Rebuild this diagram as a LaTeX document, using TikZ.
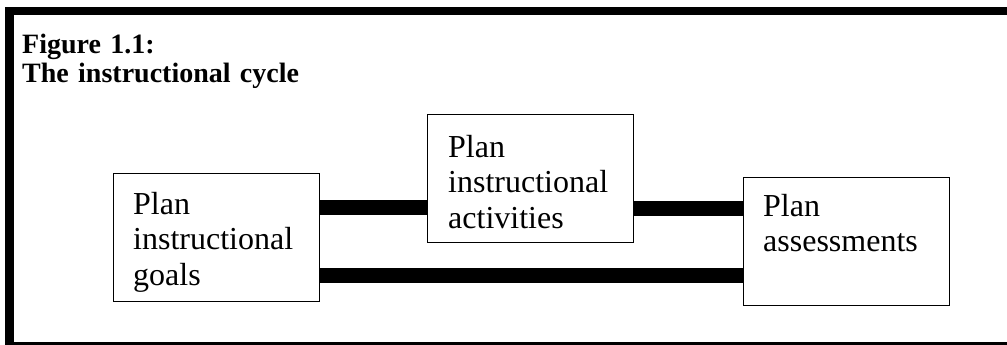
\documentclass[tikz,border=0pt]{standalone}
\usepackage{fontspec}
\setmainfont{Liberation Serif}
\usetikzlibrary{calc}
\begin{document}
\begin{tikzpicture}[x=1pt,y=-1pt,
  stagebox/.style={draw=black, line width=1.3pt, minimum width=206pt,
    minimum height=128pt, inner sep=0pt, anchor=north west},
  stagetext/.style={anchor=base west, text width=190pt, align=left,
    inner sep=0pt, font=\fontsize{32}{35.5}\selectfont},
  titletext/.style={anchor=base west, text width=400pt, align=left,
    inner sep=0pt, font=\bfseries\fontsize{28}{29}\selectfont},
  link/.style={line width=15pt, draw=black},
  framebar/.style={fill=black}]
\useasboundingbox (0,0) rectangle (1007,345);

% frame: heavy top and left rules, light bottom rule
\fill[framebar] (5,7) rectangle (1007,15);
\fill[framebar] (5,7) rectangle (14,345);
\fill[framebar] (5,342) rectangle (1007,345);

% title
\node[titletext] (title) at (22,54) {Figure 1.1:\\The instructional cycle};

% the three planning stages
\node[stagebox] (goals)  at (113,173) {};
\node[stagebox] (act)    at (427,114) {};
\node[stagebox] (assess) at (743,177) {};

\node[stagetext] (goalsText)  at ($(goals.north west)+(20,41)$)  {Plan\\instructional\\goals};
\node[stagetext] (actText)    at ($(act.north west)+(21,43)$)    {Plan\\instructional\\activities};
\node[stagetext] (assessText) at ($(assess.north west)+(20,39)$) {Plan\\assessments};

% heavy links between the stages
\coordinate (gUp)  at ($(goals.north east)!0.264!(goals.south east)$);
\coordinate (aOut) at ($(act.north east)!0.734!(act.south east)$);
\coordinate (gLow) at ($(goals.north east)!0.79!(goals.south east)$);

\draw[link] (gUp)  -- (gUp -| act.west);
\draw[link] (aOut) -- (aOut -| assess.west);
\draw[link] (gLow) -- (gLow -| assess.west);
\end{tikzpicture}
\end{document}
